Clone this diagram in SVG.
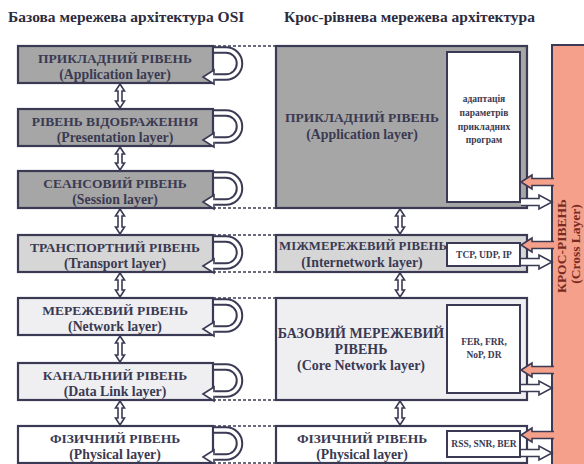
<svg xmlns="http://www.w3.org/2000/svg" width="584" height="464" viewBox="0 0 584 464">
<style>
text{font-family:"Liberation Serif","Times New Roman",serif;font-weight:bold;fill:#3a3a52}
.hd{font-size:15.5px;fill:#2c2c40}
.t{font-size:13.5px;text-anchor:middle}
.s{font-size:13.8px;text-anchor:middle}
.sm{font-size:9.5px;text-anchor:middle}
.box{stroke:#3a3a55;stroke-width:2.2}
.g1{fill:#a6a6a6}.g2{fill:#d6d6d6}.g3{fill:#efeff2}.g4{fill:#ffffff}
.inner{fill:#ffffff;stroke:#3a3a55;stroke-width:2}
.dash{stroke:#3a3a55;stroke-width:1.5;stroke-dasharray:3 2;fill:none}
.loopo{fill:none;stroke:#3a3a55;stroke-width:7.5}
.loopi{fill:none;stroke:#ffffff;stroke-width:3.5}
.ah{fill:#ffffff;stroke:#3a3a55;stroke-width:1.6;stroke-linejoin:miter}
.va{fill:#ffffff;stroke:#3a3a55;stroke-width:1.6}
.sal{fill:#f5a08a;stroke:#3a3a55;stroke-width:1.6}
.wa{fill:#ffffff;stroke:#3a3a55;stroke-width:1.6}
.cl{font-size:13.5px;text-anchor:middle;fill:#7a2a20}
</style>
<defs>
<g id="loop">
<path class="loopo" d="M212,4 H226 A13.5 13.5 0 0 1 226,31 H215"/>
<polygon class="ah" points="203,31 214,24 214,38"/>
<path class="loopi" d="M214,4 H226 A13.5 13.5 0 0 1 226,31 H212"/>
</g>
</defs>

<text class="hd" x="8" y="22">Базова мережева архітектура OSI</text>
<text class="hd" x="284" y="22">Крос-рівнева мережева архітектура</text>

<g id="connectors">
<line class="dash" x1="213" y1="46" x2="276" y2="46"/>
<line class="dash" x1="213" y1="208" x2="276" y2="208"/>
<line class="dash" x1="213" y1="235" x2="276" y2="235"/>
<line class="dash" x1="213" y1="272" x2="276" y2="272"/>
<line class="dash" x1="213" y1="298" x2="276" y2="298"/>
<line class="dash" x1="213" y1="400" x2="276" y2="400"/>
<line class="dash" x1="213" y1="426" x2="276" y2="426"/>
<line class="dash" x1="213" y1="463" x2="276" y2="463"/>
<g id="vertical-arrows">
<polygon class="va" points="120,84 124.5,91 122,91 122,101 124.5,101 120,108 115.5,101 118,101 118,91 115.5,91"/>
<polygon class="va" points="120,147 124.5,154 122,154 122,163 124.5,163 120,170 115.5,163 118,163 118,154 115.5,154"/>
<polygon class="va" points="120,209 124.5,216 122,216 122,227 124.5,227 120,234 115.5,227 118,227 118,216 115.5,216"/>
<polygon class="va" points="120,273 124.5,280 122,280 122,290 124.5,290 120,297 115.5,290 118,290 118,280 115.5,280"/>
<polygon class="va" points="120,336 124.5,343 122,343 122,355 124.5,355 120,362 115.5,355 118,355 118,343 115.5,343"/>
<polygon class="va" points="120,401 124.5,408 122,408 122,418 124.5,418 120,425 115.5,418 118,418 118,408 115.5,408"/>
<polygon class="va" points="400,209 404.5,216 402,216 402,227 404.5,227 400,234 395.5,227 398,227 398,216 395.5,216"/>
<polygon class="va" points="400,273 404.5,280 402,280 402,290 404.5,290 400,297 395.5,290 398,290 398,280 395.5,280"/>
<polygon class="va" points="400,401 404.5,408 402,408 402,418 404.5,418 400,425 395.5,418 398,418 398,408 395.5,408"/>
</g>
</g>

<g id="osi-application">
<rect class="box g1" x="18" y="46" width="195" height="37"/>
<use href="#loop" transform="translate(0,46)"/>
<text class="t" x="115" y="63">ПРИКЛАДНИЙ РІВЕНЬ</text>
<text class="s" x="115" y="78.5">(Application layer)</text>
</g>
<g id="osi-presentation">
<rect class="box g1" x="18" y="109" width="195" height="37"/>
<use href="#loop" transform="translate(0,109)"/>
<text class="t" x="115" y="126">РІВЕНЬ ВІДОБРАЖЕННЯ</text>
<text class="s" x="115" y="141.5">(Presentation layer)</text>
</g>
<g id="osi-session">
<rect class="box g1" x="18" y="171" width="195" height="37"/>
<use href="#loop" transform="translate(0,171)"/>
<text class="t" x="115" y="188">СЕАНСОВИЙ РІВЕНЬ</text>
<text class="s" x="115" y="203.5">(Session layer)</text>
</g>
<g id="osi-transport">
<rect class="box g2" x="18" y="235" width="195" height="37"/>
<use href="#loop" transform="translate(0,235)"/>
<text class="t" x="115" y="252">ТРАНСПОРТНИЙ РІВЕНЬ</text>
<text class="s" x="115" y="267.5">(Transport layer)</text>
</g>
<g id="osi-network">
<rect class="box g3" x="18" y="298" width="195" height="37"/>
<use href="#loop" transform="translate(0,298)"/>
<text class="t" x="115" y="315">МЕРЕЖЕВИЙ РІВЕНЬ</text>
<text class="s" x="115" y="330.5">(Network layer)</text>
</g>
<g id="osi-datalink">
<rect class="box g3" x="18" y="363" width="195" height="37"/>
<use href="#loop" transform="translate(0,363)"/>
<text class="t" x="115" y="380">КАНАЛЬНИЙ РІВЕНЬ</text>
<text class="s" x="115" y="395.5">(Data Link layer)</text>
</g>
<g id="osi-physical">
<rect class="box g4" x="18" y="426" width="195" height="37"/>
<use href="#loop" transform="translate(0,426)"/>
<text class="t" x="115" y="443">ФІЗИЧНИЙ РІВЕНЬ</text>
<text class="s" x="115" y="458.5">(Physical layer)</text>
</g>

<g id="cross-layer">
<rect x="552" y="45" width="40" height="430" fill="#f5a08a" stroke="#3a3a55" stroke-width="2"/>
<text class="cl" transform="translate(566,246) rotate(-90)">КРОС-РІВЕНЬ</text>
<text class="cl" transform="translate(580,244) rotate(-90)">(Cross Layer)</text>
</g>

<g id="cl-application">
<rect class="box g1" x="276" y="46" width="251" height="162"/>
<rect class="inner" x="447" y="52" width="73" height="150"/>
<text class="t" x="362" y="122">ПРИКЛАДНИЙ РІВЕНЬ</text>
<text class="s" x="362" y="139">(Application layer)</text>
<text class="sm" x="484" y="102">адаптація</text>
<text class="sm" x="484" y="116">параметрів</text>
<text class="sm" x="484" y="130">прикладних</text>
<text class="sm" x="484" y="143">програм</text>
</g>
<g id="cl-internetwork">
<rect class="box g2" x="276" y="235" width="251" height="37"/>
<rect class="inner" x="447" y="243" width="73" height="23"/>
<text class="t" x="363" y="250" style="font-size:12.8px">МІЖМЕРЕЖЕВИЙ РІВЕНЬ</text>
<text class="s" x="362" y="267">(Internetwork layer)</text>
<text class="sm" x="484" y="258">TCP, UDP, IP</text>
</g>
<g id="cl-core">
<rect class="box g3" x="276" y="298" width="251" height="102"/>
<rect class="inner" x="447" y="305" width="73" height="88"/>
<text class="t" x="361" y="338" style="font-size:14px">БАЗОВИЙ МЕРЕЖЕВИЙ</text>
<text class="t" x="361" y="354" style="font-size:14px">РІВЕНЬ</text>
<text class="s" x="361" y="370" style="font-size:14px">(Core Network layer)</text>
<text class="sm" x="484" y="345">FER, FRR,</text>
<text class="sm" x="484" y="358">NoP, DR</text>
</g>
<g id="cl-physical">
<rect class="box g4" x="276" y="426" width="251" height="37"/>
<rect class="inner" x="447" y="431" width="73" height="26"/>
<text class="t" x="362" y="443">ФІЗИЧНИЙ РІВЕНЬ</text>
<text class="s" x="362" y="459">(Physical layer)</text>
<text class="sm" x="484" y="447">RSS, SNR, BER</text>
</g>

<g id="cross-arrows">
<path class="sal" d="M554,178.5 H532 V175 L521,182 L532,189 V185.5 H554"/>
<path class="wa" d="M521,198.5 H539 V195 L552,202 L539,209 V205.5 H521"/>
<path class="sal" d="M554,241.5 H532 V238 L521,245 L532,252 V248.5 H554"/>
<path class="wa" d="M521,258.5 H539 V255 L552,262 L539,269 V265.5 H521"/>
<path class="sal" d="M554,366.5 H532 V363 L521,370 L532,377 V373.5 H554"/>
<path class="wa" d="M521,384.5 H539 V381 L552,388 L539,395 V391.5 H521"/>
<path class="sal" d="M554,431.5 H532 V428 L521,435 L532,442 V438.5 H554"/>
<path class="wa" d="M521,449.5 H539 V446 L552,453 L539,460 V456.5 H521"/>
</g>
</svg>
